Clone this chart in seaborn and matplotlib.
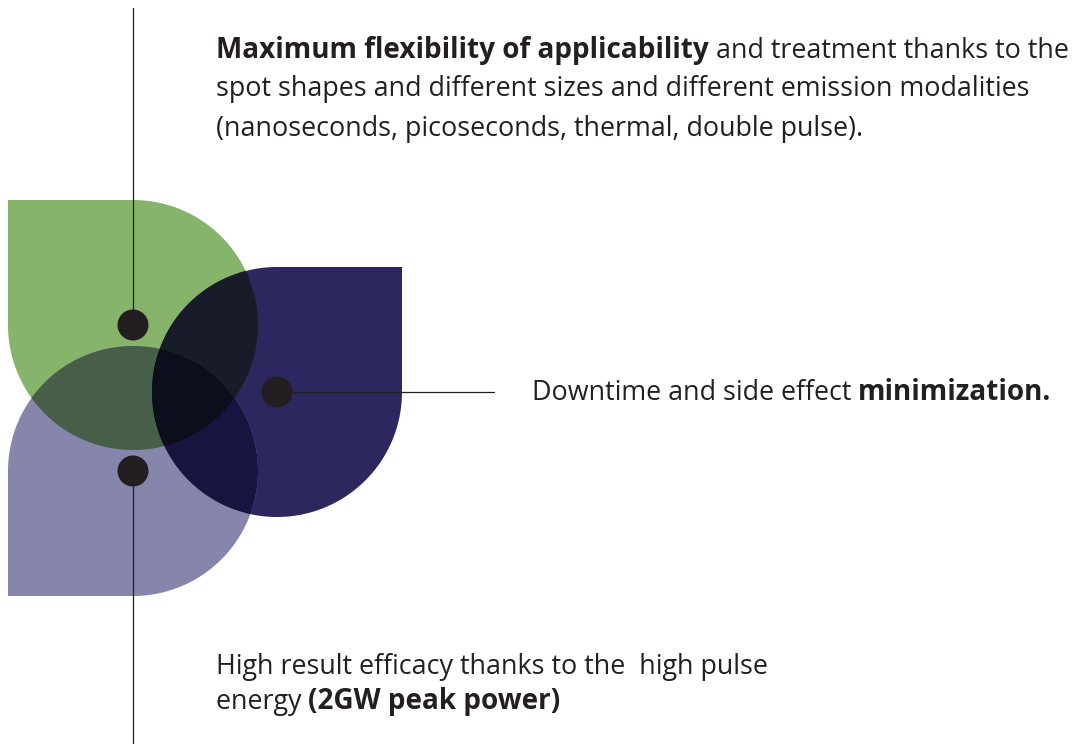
import numpy as np
import matplotlib
matplotlib.use("Agg")
import matplotlib.pyplot as plt
from matplotlib.patches import Polygon, Circle
import seaborn as sns

sns.set_theme(style="white")
plt.rcParams['font.family'] = ['Open Sans', 'DejaVu Sans']

# ---- content ----
petal_names = ["flexibility", "minimization", "efficacy"]
petal_colors = ["#87B46B", "#2D2760", "#8685AB"]
petal_centers = [(133, 325), (277, 392), (133, 471)]
petal_corners = [(-1, -1), (1, -1), (-1, 1)]
petal_radius = 125

block1_lines = [
    [("Maximum flexibility of applicability", "bold"), (" and treatment thanks to the", "normal")],
    [("spot shapes and different sizes and different emission modalities", "normal")],
    [("(nanoseconds, picoseconds, thermal, double pulse).", "normal")],
]
block2_lines = [
    [("Downtime and side effect ", "normal"), ("minimization.", "bold")],
]
block3_lines = [
    [("High result efficacy thanks to the  high pulse", "normal")],
    [("energy ", "normal"), ("(2GW peak power)", "bold")],
]

INK = "#231F20"
FS = {"normal": 19.4, "bold": 20.1}


def hull(points):
    pts = sorted(map(tuple, points))
    def cross(o, a, b):
        return (a[0]-o[0])*(b[1]-o[1]) - (a[1]-o[1])*(b[0]-o[0])
    lower, upper = [], []
    for p in pts:
        while len(lower) >= 2 and cross(lower[-2], lower[-1], p) <= 0:
            lower.pop()
        lower.append(p)
    for p in reversed(pts):
        while len(upper) >= 2 and cross(upper[-2], upper[-1], p) <= 0:
            upper.pop()
        upper.append(p)
    return np.array(lower[:-1] + upper[:-1])


def petal(center, corner, r):
    cx, cy = center
    t = np.linspace(0, 2*np.pi, 400, endpoint=False)
    pts = np.column_stack([cx + r*np.cos(t), cy + r*np.sin(t)])
    pts = np.vstack([pts, [[cx + corner[0]*r, cy + corner[1]*r]]])
    return hull(pts)


def clip(subject, clipper):
    def inside(p, a, b):
        return (b[0]-a[0])*(p[1]-a[1]) - (b[1]-a[1])*(p[0]-a[0]) >= 0
    def inter(p1, p2, a, b):
        d1 = p2 - p1
        d2 = b - a
        den = d1[0]*d2[1] - d1[1]*d2[0]
        tt = ((a[0]-p1[0])*d2[1] - (a[1]-p1[1])*d2[0]) / den
        return p1 + tt*d1
    out = list(subject)
    n = len(clipper)
    for i in range(n):
        a, b = clipper[i], clipper[(i+1) % n]
        inp = out
        out = []
        if not inp:
            break
        s = inp[-1]
        for e in inp:
            if inside(e, a, b):
                if not inside(s, a, b):
                    out.append(inter(s, e, a, b))
                out.append(e)
            elif inside(s, a, b):
                out.append(inter(s, e, a, b))
            s = e
    return np.array(out)


def mult(*cols):
    c = np.ones(3)
    for col in cols:
        c = c * np.array(matplotlib.colors.to_rgb(col))
    return tuple(c)


fig = plt.figure(figsize=(10.83, 7.44), dpi=100)
ax = fig.add_axes([0, 0, 1, 1])
ax.set_xlim(0, 1083)
ax.set_ylim(744, 0)
ax.axis("off")

polys = [petal(c, k, petal_radius) for c, k in zip(petal_centers, petal_corners)]
for p, col in zip(polys, petal_colors):
    ax.add_patch(Polygon(p, closed=True, facecolor=col, edgecolor="none", zorder=1))
pairs = [(0, 1), (0, 2), (1, 2)]
for i, j in pairs:
    q = clip(polys[i], polys[j])
    if len(q) > 2:
        ax.add_patch(Polygon(q, closed=True, facecolor=mult(petal_colors[i], petal_colors[j]),
                             edgecolor="none", zorder=2))
q = clip(clip(polys[0], polys[1]), polys[2])
if len(q) > 2:
    ax.add_patch(Polygon(q, closed=True, facecolor=mult(*petal_colors), edgecolor="none", zorder=3))

# connector lines
ax.plot([133, 133], [8, 325], color=INK, lw=0.9, zorder=4)
ax.plot([133, 133], [471, 744], color=INK, lw=0.9, zorder=4)
ax.plot([277, 494], [392, 392], color=INK, lw=0.9, zorder=4)
for c in petal_centers:
    ax.add_patch(Circle(c, 15.5, facecolor=INK, edgecolor="none", zorder=5))

renderer = fig.canvas.get_renderer()
inv = ax.transData.inverted()


def draw_block(lines, x, baselines):
    for segs, yb in zip(lines, baselines):
        xx = x
        for txt, w in segs:
            t = ax.text(xx, yb, txt, fontsize=FS[w], fontweight=w, color=INK,
                        ha="left", va="baseline", zorder=6)
            ext = t.get_window_extent(renderer=renderer)
            xx = inv.transform((ext.x1, ext.y0))[0]


draw_block(block1_lines, 216, [58, 96, 136])
draw_block(block2_lines, 532, [400])
draw_block(block3_lines, 216, [674, 709])

fig.savefig("out.png", dpi=100)
